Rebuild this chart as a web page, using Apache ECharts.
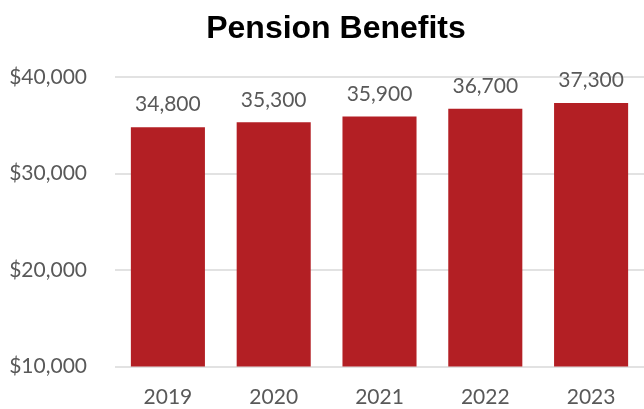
<!DOCTYPE html>
<html>
<head>
<meta charset="utf-8">
<script src="https://cdn.jsdelivr.net/npm/echarts@6/dist/echarts.min.js"></script>
<style>
  html, body { margin: 0; padding: 0; background: #fff; }
  #chart { width: 644px; height: 409px; }
</style>
</head>
<body>
<div id="chart"></div>
<script>
// chart data
const years = ['2019', '2020', '2021', '2022', '2023']
const benefits = [34800, 35300, 35900, 36700, 37300]
const yTicks = [10000, 20000, 30000, 40000]

const textGrey = '#595959'
const font = 'Lato'

const chart = echarts.init(document.getElementById('chart'))

chart.setOption({
  animation: false,
  title: {
    text: 'Pension Benefits',
    left: 331,
    textAlign: 'center',
    top: 8,
    textStyle: { fontFamily: 'Liberation Sans', fontWeight: 'bold', fontSize: 32, color: '#000' }
  },
  grid: { left: 115, right: -3, top: 77, bottom: 42.5 },
  xAxis: {
    type: 'category',
    data: years,
    axisLine: { show: false },
    axisTick: { show: false },
    axisLabel: { color: textGrey, fontFamily: font, fontSize: 21, margin: 20 }
  },
  yAxis: {
    type: 'value',
    min: yTicks[0],
    max: yTicks[yTicks.length - 1],
    interval: 10000,
    axisLine: { show: false },
    axisTick: { show: false },
    splitLine: { lineStyle: { color: '#d9d9d9', width: 1.5 } },
    axisLabel: {
      color: textGrey, fontFamily: font, fontSize: 21, margin: 28,
      formatter: v => '$' + v.toLocaleString('en-US')
    }
  },
  series: [{
    type: 'bar',
    data: benefits,
    barCategoryGap: '30%',
    itemStyle: { color: '#b31f24' },
    label: {
      show: true,
      position: 'top',
      distance: 12,
      color: textGrey,
      fontFamily: font,
      fontSize: 21,
      formatter: p => p.value.toLocaleString('en-US')
    }
  }]
})
</script>
</body>
</html>
